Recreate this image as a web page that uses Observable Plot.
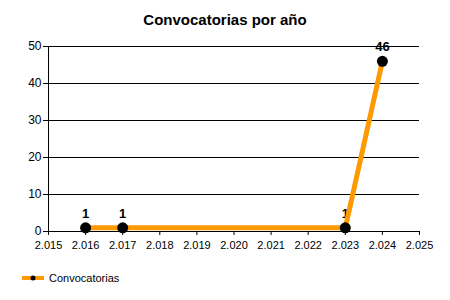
<!DOCTYPE html>
<html><head><meta charset="utf-8">
<script src="https://cdn.jsdelivr.net/npm/d3@7"></script>
<script src="https://cdn.jsdelivr.net/npm/@observablehq/plot@0.6"></script>
<style>
body{margin:0;background:#fff;font-family:"Liberation Sans",Arial,sans-serif;}
#wrap{width:450px;height:300px;position:relative;overflow:hidden;}
#title{height:36px;line-height:39px;text-align:center;font-weight:bold;font-size:15px;color:#000;}
#legend{position:absolute;left:0;top:266px;height:24px;width:450px;}
</style></head><body>
<div id="wrap">
<div id="title">Convocatorias por año</div>
<div id="chart"></div>
<div id="legend"></div>
</div>
<script>
const years = [2016, 2017, 2023, 2024];
const counts = [1, 1, 1, 46];
const seriesName = "Convocatorias";
const xTicks = d3.range(2015, 2026);
const yTicks = [0, 10, 20, 30, 40, 50];

const data = years.map((y, i) => ({year: y, count: counts[i]}));
const es = d3.formatLocale({decimal: ",", thousands: ".", grouping: [3], currency: ["", "€"]});
const fmt = es.format(",d");
const font = "Liberation Sans, Arial, sans-serif";
const orange = "#FF9900";

const chart = Plot.plot({
  width: 450, height: 230,
  marginLeft: 48, marginRight: 31, marginTop: 10, marginBottom: 35,
  style: {fontFamily: font, fontSize: "11px", color: "#000", background: "#fff"},
  x: {domain: [2015, 2025], ticks: xTicks, tickFormat: fmt, label: null},
  y: {domain: [0, 50], ticks: yTicks, label: null},
  marks: [
    Plot.gridY(yTicks.filter(d => d > 0), {stroke: "#000", strokeOpacity: 1, strokeWidth: 1}),
    Plot.ruleX([2015], {stroke: "#000"}),
    Plot.ruleY([0], {stroke: "#000"}),
    Plot.axisX({ticks: xTicks, tickFormat: fmt, tickSize: 4, tickPadding: 6, fontSize: 11}),
    Plot.axisY({ticks: yTicks, tickSize: 5, tickPadding: 2, fontSize: 12}),
    Plot.text(data, {x: "year", y: "count", text: d => String(d.count), dy: -14, fontWeight: "bold", fontSize: 13, fill: "#000"}),
    Plot.line(data, {x: "year", y: "count", stroke: orange, strokeWidth: 5}),
    Plot.dot(data, {x: "year", y: "count", r: 5.5, fill: "#000", stroke: "none"})
  ]
});
document.getElementById("chart").appendChild(chart);

// legend
const leg = d3.select("#legend").append("svg").attr("width", 450).attr("height", 24);
leg.append("line").attr("x1", 22).attr("x2", 44).attr("y1", 12).attr("y2", 12).attr("stroke", orange).attr("stroke-width", 4);
leg.append("circle").attr("cx", 33).attr("cy", 12).attr("r", 2.5).attr("fill", "#000");
leg.append("text").attr("x", 49).attr("y", 16).attr("font-size", 11).attr("font-family", font).text(seriesName);
</script>
</body></html>
